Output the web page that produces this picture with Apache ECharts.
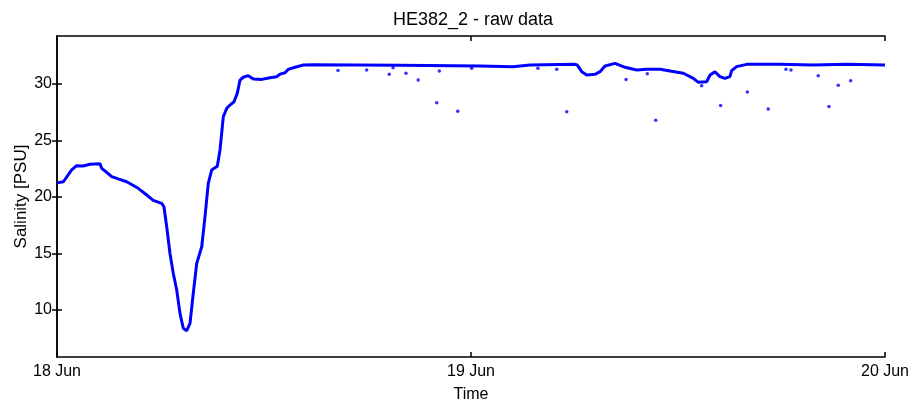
<!DOCTYPE html>
<html>
<head>
<meta charset="utf-8">
<title>HE382_2 - raw data</title>
<script src="https://cdn.jsdelivr.net/npm/echarts@6/dist/echarts.min.js"></script>
<style>
  html, body { margin: 0; padding: 0; background: #fff; }
  #chart { width: 915px; height: 403px; }
</style>
</head>
<body>
<div id="chart"></div>
<script>
  // time in hours since 18 Jun 00:00
  var timeHours = [0, 0.37, 0.85, 1.14, 1.52, 1.91, 2.49, 2.59, 2.88, 3.17, 3.55, 4.04, 4.71, 5.2, 5.58,
    6.07, 6.2, 6.36, 6.55, 6.74, 6.94, 7.13, 7.32, 7.52, 7.71, 7.9, 8.1, 8.39, 8.58, 8.77, 8.97,
    9.16, 9.29, 9.45, 9.64, 9.84, 10.03, 10.26, 10.45, 10.61, 10.8, 11.09, 11.38, 11.87, 12.35,
    12.74, 12.93, 13.22, 13.41, 13.8, 14.28, 14.86, 19.88, 24.52, 26.43, 27.42, 30.03, 30.16,
    30.42, 30.71, 31.19, 31.48, 31.77, 32.35, 32.93, 33.61, 34.19, 34.96, 35.54, 36.31, 36.89,
    37.18, 37.66, 37.86, 38.14, 38.43, 38.72, 39.01, 39.11, 39.4, 39.98, 41.91, 43.83, 45.78, 48];
  var salinity = [21.25, 21.35, 22.4, 22.77, 22.74, 22.9, 22.95, 22.54, 22.19, 21.8, 21.6, 21.35, 20.77, 20.18, 19.7,
    19.44, 19.14, 17.37, 15.0, 13.25, 11.77, 9.7, 8.38, 8.17, 8.82, 11.48, 14.13, 15.6, 18.26, 21.2, 22.4,
    22.6, 22.7, 24.16, 27.1, 27.85, 28.14, 28.43, 29.17, 30.35, 30.6, 30.74, 30.44, 30.41, 30.56,
    30.65, 30.88, 31.0, 31.3, 31.48, 31.68, 31.71, 31.66, 31.6, 31.53, 31.68, 31.74, 31.68,
    31.09, 30.8, 30.86, 31.09, 31.6, 31.83, 31.48, 31.24, 31.3, 31.3, 31.15, 30.95, 30.5,
    30.15, 30.2, 30.8, 31.09, 30.65, 30.5, 30.65, 31.18, 31.54, 31.74, 31.74, 31.68, 31.74, 31.68];

  // isolated spikes in the raw record
  var spikeHours = [16.29, 17.95, 19.26, 19.48, 20.23, 20.94, 22.01, 22.16, 23.23, 24.04, 27.88, 28.97, 29.55,
    32.99, 34.22, 34.71, 37.37, 38.47, 40.02, 41.23, 42.26, 42.55, 44.13, 44.75, 45.29, 46.01];
  var spikeSalinity = [31.2, 31.24, 30.86, 31.45, 30.95, 30.35, 28.35, 31.15, 27.6, 31.39, 31.39, 31.3, 27.55,
    30.4, 30.9, 26.8, 29.85, 28.1, 29.3, 27.8, 31.3, 31.24, 30.73, 28.0, 29.9, 30.3];

  var xTickLabels = ['18 Jun', '19 Jun', '20 Jun'];
  var yTickValues = [10, 15, 20, 25, 30];

  var font = "'Liberation Sans', Arial, sans-serif";
  var axisLineStyle = { color: '#000', width: 1.5 };

  var chart = echarts.init(document.getElementById('chart'), null, { renderer: 'canvas' });

  var lineData = timeHours.map(function (t, i) { return [t, salinity[i]]; });
  var spikeData = spikeHours.map(function (t, i) { return [t, spikeSalinity[i]]; });

  chart.setOption({
    animation: false,
    title: {
      text: 'HE382_2 - raw data',
      left: 468,
      textAlign: 'center',
      top: 6,
      textStyle: { fontFamily: font, fontSize: 18, fontWeight: 'normal', color: '#000' }
    },
    grid: { left: 57, right: 30, top: 36, bottom: 46, outerBoundsMode: 'none' },
    xAxis: [{
      type: 'value',
      position: 'bottom',
      min: 0,
      max: 48,
      interval: 24,
      name: 'Time',
      nameLocation: 'middle',
      nameGap: 30,
      nameMoveOverlap: false,
      nameTextStyle: { fontFamily: font, fontSize: 16, color: '#000' },
      axisLine: { lineStyle: axisLineStyle },
      axisTick: { inside: true, length: 5, lineStyle: axisLineStyle },
      axisLabel: {
        margin: 7,
        fontFamily: font,
        fontSize: 16,
        color: '#000',
        showMinLabel: true,
        showMaxLabel: true,
        formatter: function (v) { return xTickLabels[Math.round(v / 24)]; }
      },
      splitLine: { show: false }
    }, {
      type: 'value',
      position: 'top',
      min: 0,
      max: 48,
      interval: 24,
      axisLine: { lineStyle: axisLineStyle },
      axisTick: { inside: true, length: 5, lineStyle: axisLineStyle },
      axisLabel: { show: false },
      splitLine: { show: false }
    }],
    yAxis: [{
      type: 'value',
      position: 'left',
      min: 5.84,
      max: 34.25,
      name: 'Salinity [PSU]',
      nameLocation: 'middle',
      nameGap: 27,
      nameMoveOverlap: false,
      nameTextStyle: { fontFamily: font, fontSize: 17, color: '#000' },
      axisLine: { show: true, lineStyle: axisLineStyle },
      axisTick: { show: true, inside: true, length: 5, customValues: yTickValues, lineStyle: axisLineStyle },
      axisLabel: { margin: 5, fontFamily: font, fontSize: 16, color: '#000', customValues: yTickValues },
      splitLine: { show: false }
    }, {
      type: 'value',
      position: 'right',
      min: 5.84,
      max: 34.25,
      axisLine: { show: true, lineStyle: axisLineStyle },
      axisTick: { show: true, inside: true, length: 5, customValues: yTickValues, lineStyle: axisLineStyle },
      // empty labels keep the mirrored ticks drawn
      axisLabel: { show: true, customValues: yTickValues, formatter: function () { return ''; } },
      splitLine: { show: false }
    }],
    series: [{
      name: 'salinity',
      type: 'line',
      data: lineData,
      showSymbol: false,
      lineStyle: { color: '#0000ff', width: 3 },
      z: 3
    }, {
      name: 'spikes',
      type: 'scatter',
      data: spikeData,
      symbolSize: 3.5,
      itemStyle: { color: '#0000ff' },
      z: 4
    }]
  });
</script>
</body>
</html>
